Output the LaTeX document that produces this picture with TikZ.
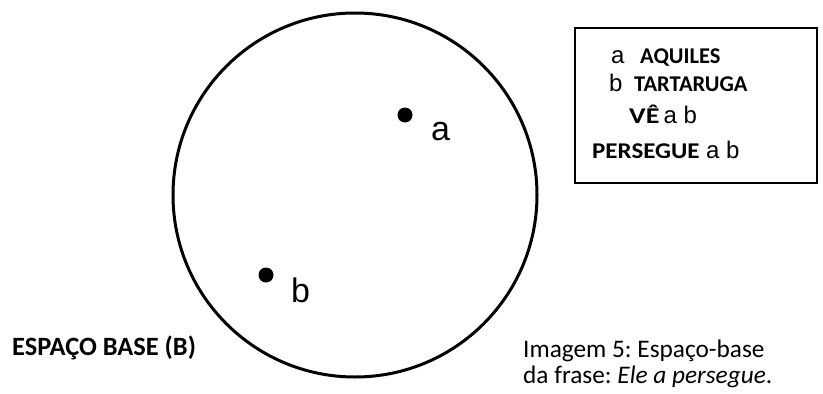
\documentclass[tikz,border=0pt]{standalone}
\usepackage{fontspec}
\usepackage{graphicx}
\setmainfont{Carlito}
\newfontfamily\arialf{Liberation Sans}
\frenchspacing
\begin{document}
\begin{tikzpicture}[x=1pt,y=-1pt,
  lbl/.style={inner sep=0pt, anchor=base west},
  dotnode/.style={circle, fill=black, inner sep=0pt, minimum size=15pt},
  biglet/.style={lbl, font=\arialf\fontsize{34}{40}\selectfont},
  boxlet/.style={lbl, font=\arialf\fontsize{24}{28}\selectfont},
  boxcap/.style={lbl, font=\bfseries\fontsize{22.5}{26}\selectfont},
  bigcap/.style={lbl, font=\bfseries\fontsize{26.4}{30}\selectfont},
  captxt/.style={lbl, font=\fontsize{25.3}{28}\selectfont}]
\useasboundingbox (0,0) rectangle (823,394);
% base space circle
\node[draw, line width=3pt, circle, minimum size=364pt, inner sep=0pt] (space) at (355,195) {};
\node[dotnode] (a) at (405,115) {};
\node[biglet] (alab) at (431,140) {a};
\node[dotnode] (b) at (266,275) {};
\node[biglet] (blab) at (291,302) {b};
% legend box
\node[draw, line width=1.5pt, minimum width=242pt, minimum height=155pt, inner sep=0pt] (box) at (696,105.5) {};
\node[boxlet] (la) at (611,63) {a};
\node[boxcap] (aq) at (640,63) {AQUILES};
\node[boxlet] (lb) at (609,91) {b};
\node[boxcap] (tt) at (634,91) {TARTARUGA};
\node[boxcap] (ve) at (629,123) {\scalebox{1.25}[1]{VÊ}};
\node[boxlet] (vab) at (663.5,123) {a b};
\node[boxcap] (pe) at (592,158) {\scalebox{1.11}[1]{PERSEGUE}};
\node[boxlet] (pab) at (706,158) {a b};
% labels
\node[bigcap] (eb) at (12,355) {ESPAÇO BASE (B)};
\node[captxt] (c1) at (523,357) {Imagem 5: Espaço-base};
\node[captxt] (c2) at (523,383) {da frase: \textit{Ele a persegue}.};
\end{tikzpicture}
\end{document}
